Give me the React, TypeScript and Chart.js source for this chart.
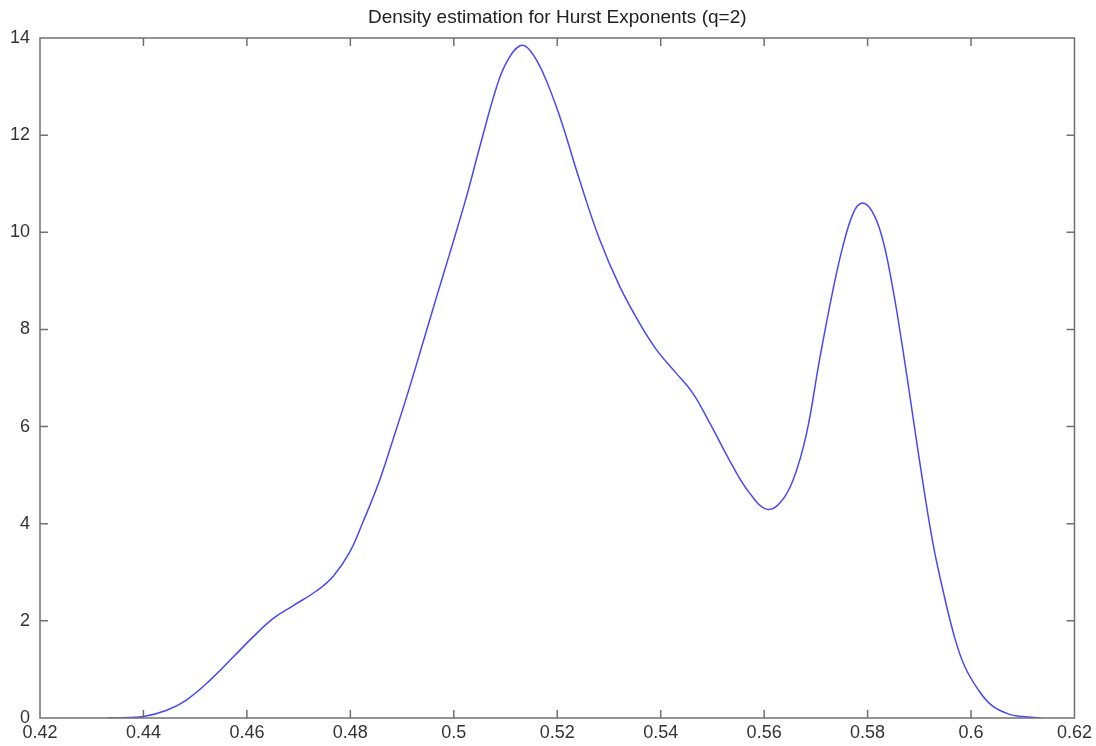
import React, { useEffect, useRef } from "react";
import { Chart, registerables } from "chart.js";

Chart.register(...registerables);

const titleText = "Density estimation for Hurst Exponents (q=2)";

const hurstX = [
  0.433, 0.436, 0.44, 0.4445, 0.4483, 0.4529, 0.4574, 0.4612, 0.4651, 0.4689,
  0.4735, 0.4767, 0.4799, 0.4825, 0.4855, 0.4883, 0.4912, 0.4941, 0.4967, 0.4992,
  0.5025, 0.505, 0.5083, 0.5102, 0.5128, 0.5147, 0.5173, 0.5205, 0.5243, 0.5282,
  0.5321, 0.5359, 0.5392, 0.543, 0.5462, 0.5495, 0.554, 0.5572, 0.5604, 0.563,
  0.5656, 0.5682, 0.5707, 0.5733, 0.5752, 0.5772, 0.5788, 0.5807, 0.5827, 0.5847,
  0.5867, 0.5887, 0.5907, 0.5927, 0.5947, 0.5967, 0.5987, 0.6014, 0.604, 0.6073,
  0.61, 0.6135,
];

const densityY = [
  0.0, 0.005, 0.03, 0.16, 0.37, 0.78, 1.26, 1.67, 2.05, 2.31,
  2.62, 2.92, 3.42, 4.05, 4.85, 5.75, 6.72, 7.75, 8.68, 9.56,
  10.75, 11.75, 13.0, 13.5, 13.84, 13.75, 13.27, 12.38, 11.08, 9.85,
  8.88, 8.13, 7.58, 7.1, 6.69, 6.07, 5.17, 4.63, 4.3, 4.42,
  4.9, 5.86, 7.37, 8.81, 9.7, 10.39, 10.6, 10.46, 9.94, 8.95,
  7.67, 6.25, 4.84, 3.56, 2.57, 1.71, 1.08, 0.58, 0.26, 0.08,
  0.03, 0.0,
];

const xTickValues = [0.42, 0.44, 0.46, 0.48, 0.5, 0.52, 0.54, 0.56, 0.58, 0.6, 0.62];
const yTickValues = [0, 2, 4, 6, 8, 10, 12, 14];

const FONT = "'Liberation Sans', Arial, Helvetica, sans-serif";

export default function App() {
  const ref = useRef<HTMLCanvasElement>(null);

  useEffect(() => {
    document.body.style.margin = "0";
    const canvas = ref.current;
    if (!canvas) return;

    const framePlugin = {
      id: "frameTicks",
      afterDatasetsDraw(chart: any) {
        const { ctx, chartArea: a, scales } = chart;
        ctx.save();
        ctx.strokeStyle = "#707070";
        ctx.lineWidth = 1.5;
        ctx.strokeRect(a.left, a.top, a.right - a.left, a.bottom - a.top);
        const L = 8;
        ctx.beginPath();
        xTickValues.forEach((v) => {
          const px = scales.x.getPixelForValue(v);
          if (px <= a.left + 1 || px >= a.right - 1) return;
          ctx.moveTo(px, a.bottom);
          ctx.lineTo(px, a.bottom - L);
          ctx.moveTo(px, a.top);
          ctx.lineTo(px, a.top + L);
        });
        yTickValues.forEach((v) => {
          const py = scales.y.getPixelForValue(v);
          if (py <= a.top + 1 || py >= a.bottom - 1) return;
          ctx.moveTo(a.left, py);
          ctx.lineTo(a.left + L, py);
          ctx.moveTo(a.right, py);
          ctx.lineTo(a.right - L, py);
        });
        ctx.stroke();
        ctx.restore();
      },
    };

    const chart = new Chart(canvas, {
      type: "line",
      data: {
        datasets: [
          {
            data: hurstX.map((x, i) => ({ x, y: densityY[i] })),
            borderColor: "rgb(72,72,245)",
            borderWidth: 1.5,
            pointRadius: 0,
            fill: false,
            tension: 0.4,
          },
        ],
      },
      options: {
        responsive: false,
        animation: false,
        layout: { padding: { left: 0, right: 21, top: 0, bottom: 0 } },
        plugins: {
          legend: { display: false },
          tooltip: { enabled: false },
          title: {
            display: true,
            text: titleText,
            fullSize: false,
            color: "#222",
            font: { family: FONT, size: 19, weight: "normal" },
            padding: { top: 6, bottom: 9.2 },
          },
        },
        scales: {
          x: {
            type: "linear",
            min: 0.42,
            max: 0.62,
            afterBuildTicks: (s: any) => {
              s.ticks = xTickValues.map((v) => ({ value: v }));
            },
            afterFit: (s: any) => {
              s.height = 28;
            },
            grid: { display: false, drawTicks: false },
            border: { display: false },
            ticks: {
              autoSkip: false,
              maxRotation: 0,
              padding: 4,
              color: "#333",
              font: { family: FONT, size: 18 },
              callback: (v: any) => String(Number(Number(v).toFixed(2))),
            },
          },
          y: {
            type: "linear",
            min: 0,
            max: 14,
            afterBuildTicks: (s: any) => {
              s.ticks = yTickValues.map((v) => ({ value: v }));
            },
            afterFit: (s: any) => {
              s.width = 40;
            },
            grid: { display: false, drawTicks: false },
            border: { display: false },
            ticks: {
              autoSkip: false,
              padding: 10,
              color: "#333",
              font: { family: FONT, size: 18 },
              callback: (v: any) => String(v),
            },
          },
        },
      },
      plugins: [framePlugin],
    } as any);

    return () => chart.destroy();
  }, []);

  return (
    <div style={{ position: "absolute", left: 0, top: 0, width: 1096, height: 746 }}>
      <canvas ref={ref} width={1096} height={746} style={{ display: "block" }} />
    </div>
  );
}
